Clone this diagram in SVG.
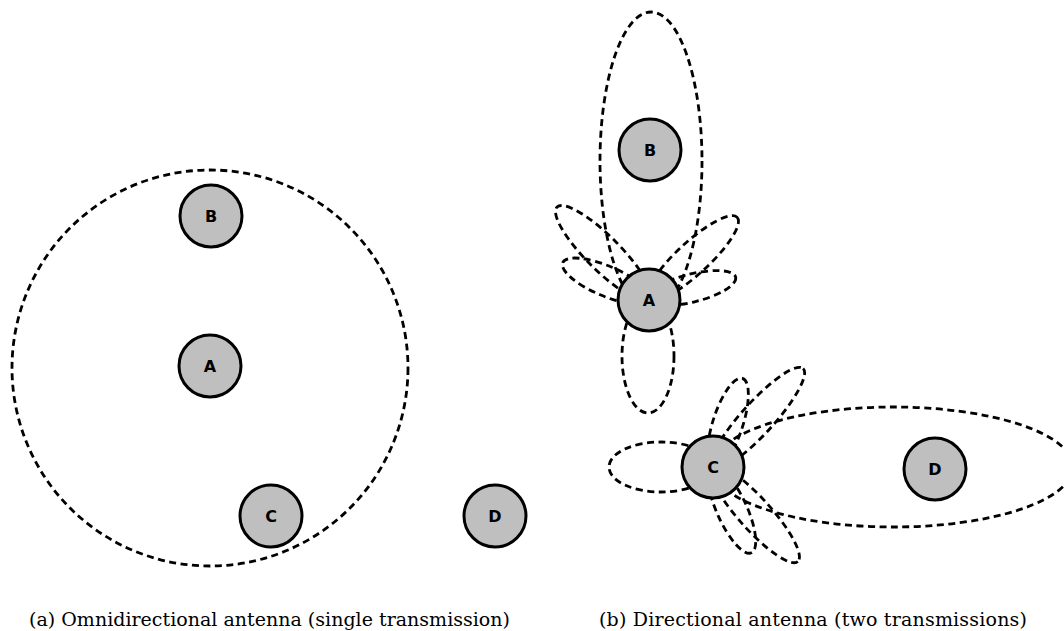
<svg xmlns="http://www.w3.org/2000/svg" width="1064" height="631" viewBox="0 0 1064 631">
<style>
.lobe{fill:none;stroke:#000;stroke-width:2.8;stroke-dasharray:7 4.5}
.node circle{fill:#bfbfbf;stroke:#000;stroke-width:3}
.node text{font-family:"DejaVu Sans",sans-serif;font-weight:bold;font-size:16px;text-anchor:middle;dominant-baseline:central}
.cap{font-family:"DejaVu Serif","Liberation Serif",serif;font-size:19px}
</style>
<rect width="1064" height="631" fill="#fff"/>
<g id="connectors">
<circle class="lobe" cx="210" cy="368" r="198"/>
<ellipse class="lobe" cx="651" cy="161" rx="51" ry="149"/>
<ellipse class="lobe" cx="603" cy="253" rx="65" ry="17" transform="rotate(45 603 253)"/>
<ellipse class="lobe" cx="606" cy="281" rx="47" ry="15" transform="rotate(23 606 281)"/>
<ellipse class="lobe" cx="693" cy="258" rx="60" ry="16" transform="rotate(-42.6 693 258)"/>
<ellipse class="lobe" cx="692" cy="288" rx="45" ry="14" transform="rotate(-14 692 288)"/>
<ellipse class="lobe" cx="648" cy="356" rx="26" ry="57"/>
<ellipse class="lobe" cx="893" cy="467" rx="180" ry="60"/>
<ellipse class="lobe" cx="728" cy="423" rx="47" ry="15" transform="rotate(-72 728 423)"/>
<ellipse class="lobe" cx="758" cy="418" rx="67" ry="16" transform="rotate(-47.7 758 418)"/>
<ellipse class="lobe" cx="661" cy="467" rx="52" ry="25"/>
<ellipse class="lobe" cx="732" cy="510" rx="47" ry="15" transform="rotate(65.6 732 510)"/>
<ellipse class="lobe" cx="755" cy="514" rx="64" ry="16" transform="rotate(48 755 514)"/>
</g>
<g id="a-B" class="node"><circle cx="211" cy="216" r="31"/><text x="211" y="216">B</text></g>
<g id="a-A" class="node"><circle cx="210" cy="366" r="31"/><text x="210" y="366">A</text></g>
<g id="a-C" class="node"><circle cx="271" cy="516" r="31"/><text x="271" y="516">C</text></g>
<g id="a-D" class="node"><circle cx="495" cy="516" r="31"/><text x="495" y="516">D</text></g>
<g id="b-B" class="node"><circle cx="650" cy="150" r="31"/><text x="650" y="150">B</text></g>
<g id="b-A" class="node"><circle cx="649" cy="300" r="31"/><text x="649" y="300">A</text></g>
<g id="b-C" class="node"><circle cx="713" cy="467" r="31"/><text x="713" y="467">C</text></g>
<g id="b-D" class="node"><circle cx="935" cy="469" r="31"/><text x="935" y="469">D</text></g>
<text class="cap" x="29" y="626" textLength="481">(a) Omnidirectional antenna (single transmission)</text>
<text class="cap" x="599" y="626" textLength="428">(b) Directional antenna (two transmissions)</text>
</svg>
